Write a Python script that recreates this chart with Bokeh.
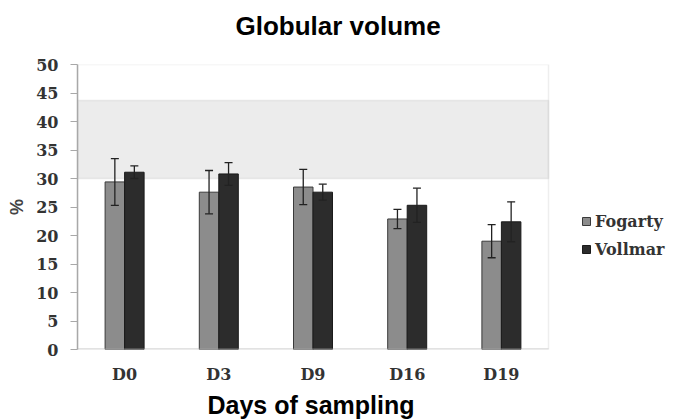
from bokeh.plotting import figure
from bokeh.models import (ColumnDataSource, Whisker, TeeHead, BoxAnnotation, Title,
                          Legend, LegendItem, FixedTicker, Range1d)
from bokeh.transform import dodge
from bokeh.embed import file_html
from bokeh.resources import INLINE

days = ["D0", "D3", "D9", "D16", "D19"]
fogarty = [29.4, 27.6, 28.5, 22.9, 19.0]
fogarty_sd = [4.1, 3.8, 3.1, 1.7, 2.9]
vollmar = [31.1, 30.8, 27.6, 25.3, 22.4]
vollmar_sd = [1.1, 2.0, 1.4, 3.0, 3.5]
ref_low, ref_high = 30, 43.7
y_ticks = [0, 5, 10, 15, 20, 25, 30, 35, 40, 45, 50]

xpos = [i + 0.5 for i in range(len(days))]
src = ColumnDataSource(dict(
    x=xpos, days=days, f=fogarty, v=vollmar,
    f_lo=[m - s for m, s in zip(fogarty, fogarty_sd)],
    f_hi=[m + s for m, s in zip(fogarty, fogarty_sd)],
    v_lo=[m - s for m, s in zip(vollmar, vollmar_sd)],
    v_hi=[m + s for m, s in zip(vollmar, vollmar_sd)],
))

n = len(days)
W, H = 675, 420
left_b, top_b, bottom_b = 77, 0, 70
data_w = 471  # pixel width of the category area
x_end = n * (W - left_b) / data_w

p = figure(width=W, height=H, x_range=Range1d(0, x_end), y_range=Range1d(0, 50),
           output_backend="svg", toolbar_location=None,
           min_border_left=left_b, min_border_right=0, min_border_top=top_b,
           min_border_bottom=bottom_b)

p.add_layout(BoxAnnotation(left=0, right=n, bottom=ref_low, top=ref_high, fill_color="#ececec",
                           fill_alpha=1, line_color="#c4c4c4", line_width=1.5, level="underlay"))
p.add_layout(BoxAnnotation(left=0, right=n, bottom=0, top=50, fill_alpha=0,
                           line_color="#c8c8c8", line_width=1.5, level="underlay"))
p.add_layout(BoxAnnotation(left=0, right=n, bottom=0, top=0, fill_alpha=0,
                           line_color="#a8a8a8", line_width=3, level="overlay"))

bw = 0.207
rf = p.vbar(x=dodge("x", -bw / 2), top="f", width=bw, source=src,
            fill_color="#8c8c8c", line_color="#3a3a3a", line_width=1)
rv = p.vbar(x=dodge("x", bw / 2), top="v", width=bw, source=src,
            fill_color="#2c2c2c", line_color="#1a1a1a", line_width=1)

for off, lo, hi in [(-bw / 2, "f_lo", "f_hi"), (bw / 2, "v_lo", "v_hi")]:
    w = Whisker(base=dodge("x", off), lower=lo, upper=hi, source=src, level="overlay",
                line_color="#222222", line_width=1.3,
                upper_head=TeeHead(size=8, line_color="#222222", line_width=1.3),
                lower_head=TeeHead(size=8, line_color="#222222", line_width=1.3))
    p.add_layout(w)

p.title = None
p.add_layout(Title(text=" ", text_font_size="20px", standoff=0), "above")
main_title = Title(text="Globular volume", text_font="Liberation Sans", text_font_size="26px",
                   text_font_style="bold", text_color="#000000", align="left", offset=158,
                   standoff=0)
p.add_layout(main_title, "above")
p.add_layout(Title(text=" ", text_font_size="6px", standoff=0), "above")

p.xgrid.grid_line_color = None
p.ygrid.grid_line_color = None
p.outline_line_color = None

p.yaxis.ticker = FixedTicker(ticks=y_ticks)
p.yaxis.axis_line_color = "#a8a8a8"
p.yaxis.axis_line_width = 1.5
p.yaxis.major_tick_line_color = "#a8a8a8"
p.yaxis.major_tick_out = 7
p.yaxis.major_tick_in = 0
p.yaxis.minor_tick_line_color = None
p.yaxis.major_label_text_font = "DejaVu Serif"
p.yaxis.major_label_text_font_size = "16px"
p.yaxis.major_label_text_font_style = "bold"
p.yaxis.major_label_text_color = "#333333"
p.yaxis.major_label_standoff = 12
p.yaxis.axis_label = "%"
p.yaxis.axis_label_text_font = "Liberation Sans"
p.yaxis.axis_label_text_font_size = "18px"
p.yaxis.axis_label_text_font_style = "bold"
p.yaxis.axis_label_standoff = 6

p.xaxis.ticker = FixedTicker(ticks=xpos)
p.xaxis.major_label_overrides = {x: d for x, d in zip(xpos, days)}
p.xaxis.axis_line_color = None
p.xaxis.major_tick_line_color = None
p.xaxis.minor_tick_line_color = None
p.xaxis.major_label_text_font = "DejaVu Serif"
p.xaxis.major_label_text_font_size = "16px"
p.xaxis.major_label_text_font_style = "bold"
p.xaxis.major_label_text_color = "#333333"
p.xaxis.major_label_standoff = 9

xt = Title(text="Days of sampling", text_font="Liberation Sans", text_font_size="25px",
           text_font_style="bold", text_color="#000000", align="left", offset=130, standoff=4)
p.add_layout(xt, "below")

legend = Legend(items=[LegendItem(label="Fogarty", renderers=[rf]),
                       LegendItem(label="Vollmar", renderers=[rv])],
                location=(504, 90), padding=0, spacing=8, label_height=20,
                glyph_height=10, glyph_width=10, label_standoff=4,
                label_text_font="DejaVu Serif", label_text_font_size="16px",
                label_text_font_style="bold", label_text_color="#333333",
                border_line_alpha=0, background_fill_alpha=0, margin=0)
p.add_layout(legend)

open("out.html", "w").write(file_html(p, INLINE))
